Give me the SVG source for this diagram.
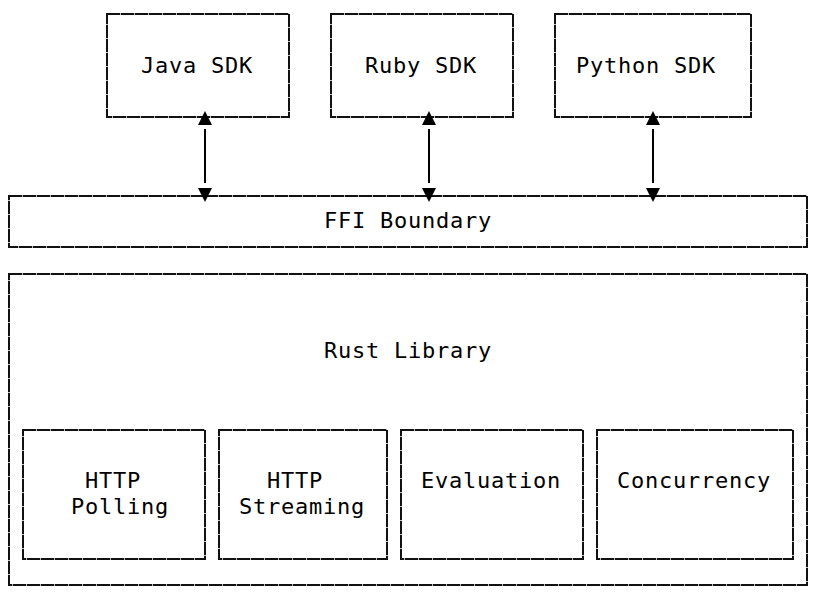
<svg xmlns="http://www.w3.org/2000/svg" width="814" height="600" viewBox="0 0 814 600">
<defs>
<style>
.bg{fill:#fff}
.box{fill:none;stroke:#111;stroke-width:2;stroke-dasharray:13.3 0.7}
.t{font-family:"DejaVu Sans Mono","Liberation Mono",monospace;font-size:22px;letter-spacing:0.76px;fill:#000}
.ln{stroke:#000;stroke-width:2;fill:none}
.ah{fill:#000}
</style>
</defs>
<rect class="bg" x="0" y="0" width="814" height="600"/>
<g id="java-sdk">
<rect class="box" x="107" y="14" width="182" height="103"/>
<text class="t" x="141" y="73">Java SDK</text>
</g>
<g id="ruby-sdk">
<rect class="box" x="331" y="14" width="182" height="103"/>
<text class="t" x="365" y="73">Ruby SDK</text>
</g>
<g id="python-sdk">
<rect class="box" x="555" y="14" width="196" height="103"/>
<text class="t" x="576" y="73">Python SDK</text>
</g>
<g id="ffi-boundary">
<rect class="box" x="9" y="196" width="798" height="51"/>
<text class="t" x="324" y="228">FFI Boundary</text>
</g>
<g id="rust-library">
<rect class="box" x="9" y="274" width="798" height="311"/>
<text class="t" x="324" y="358">Rust Library</text>
</g>
<g id="http-polling">
<rect class="box" x="23" y="430" width="182" height="129"/>
<text class="t" x="85" y="488">HTTP</text>
<text class="t" x="71" y="514">Polling</text>
</g>
<g id="http-streaming">
<rect class="box" x="219" y="430" width="168" height="129"/>
<text class="t" x="267" y="488">HTTP</text>
<text class="t" x="239" y="514">Streaming</text>
</g>
<g id="evaluation">
<rect class="box" x="401" y="430" width="182" height="129"/>
<text class="t" x="421" y="488">Evaluation</text>
</g>
<g id="concurrency">
<rect class="box" x="597" y="430" width="196" height="129"/>
<text class="t" x="617" y="488">Concurrency</text>
</g>
<g id="connectors">
<line class="ln" x1="205" y1="129" x2="205" y2="183"/>
<polygon class="ah" points="205,111 198,125 212,125"/>
<polygon class="ah" points="205,202 198,188 212,188"/>
<line class="ln" x1="429" y1="129" x2="429" y2="183"/>
<polygon class="ah" points="429,111 422,125 436,125"/>
<polygon class="ah" points="429,202 422,188 436,188"/>
<line class="ln" x1="653" y1="129" x2="653" y2="183"/>
<polygon class="ah" points="653,111 646,125 660,125"/>
<polygon class="ah" points="653,202 646,188 660,188"/>
</g>
</svg>
